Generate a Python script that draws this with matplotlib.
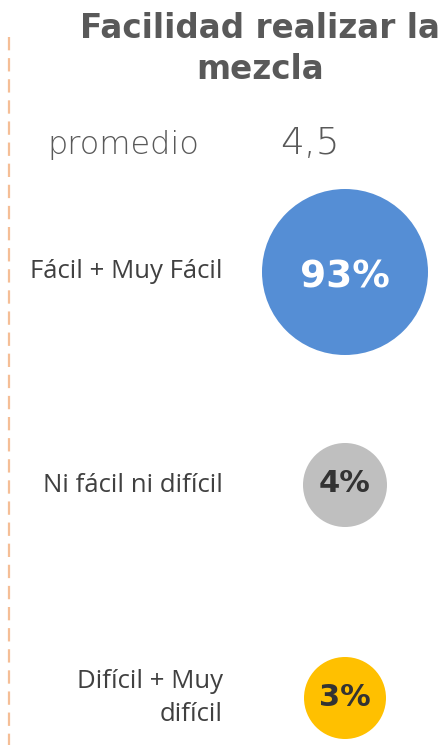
import matplotlib.pyplot as plt
from matplotlib.patches import Circle

# data
title = 'Facilidad realizar la\nmezcla'
avg_label = 'promedio'
avg_value = '4,5'
categories = ['Fácil + Muy Fácil', 'Ni fácil ni difícil', 'Difícil + Muy\ndifícil']
values = [93, 4, 3]

# styles
colors = ['#558ED5', '#BFBFBF', '#FFC000']
text_colors = ['white', '#333333', '#333333']
radii = [83, 42, 41]
pct_sizes = [27, 22, 22]
pct_offsets = [5, -2, 0]

W, H = 442, 745
fig = plt.figure(figsize=(W / 100, H / 100), dpi=100)
ax = fig.add_axes([0, 0, 1, 1])
ax.set_xlim(0, W)
ax.set_ylim(H, 0)
ax.set_aspect('equal')
ax.axis('off')

# dashed separator on the left
ax.plot([9, 9], [37, H], color='#F5BE96', lw=1.6, ls=(0, (6, 3.5)))

ax.text(260, 49, title, ha='center', va='center', fontsize=23.5, fontweight='bold',
        color='#595959', family='DejaVu Sans', linespacing=1.3)
ax.text(123, 145, avg_label, ha='center', va='center', fontsize=23, color='#595959',
        family='DejaVu Sans', fontweight='light')
ax.text(310, 143, avg_value, ha='center', va='center', fontsize=27, color='#595959',
        family='DejaVu Sans', fontweight='light')

cx = 345
for i, (cat, v) in enumerate(zip(categories, values)):
    cy = 272 + i * 213
    ax.add_patch(Circle((cx, cy), radii[i], color=colors[i], lw=0))
    ax.text(cx, cy + pct_offsets[i], f'{v}%', ha='center', va='center',
            fontsize=pct_sizes[i], fontweight='bold', color=text_colors[i],
            family='DejaVu Sans')
    ax.text(223, cy, cat, ha='right', va='center', fontsize=18.5, color='#404040',
            family='Open Sans', linespacing=1.45)

fig.savefig('out.png', dpi=100)
